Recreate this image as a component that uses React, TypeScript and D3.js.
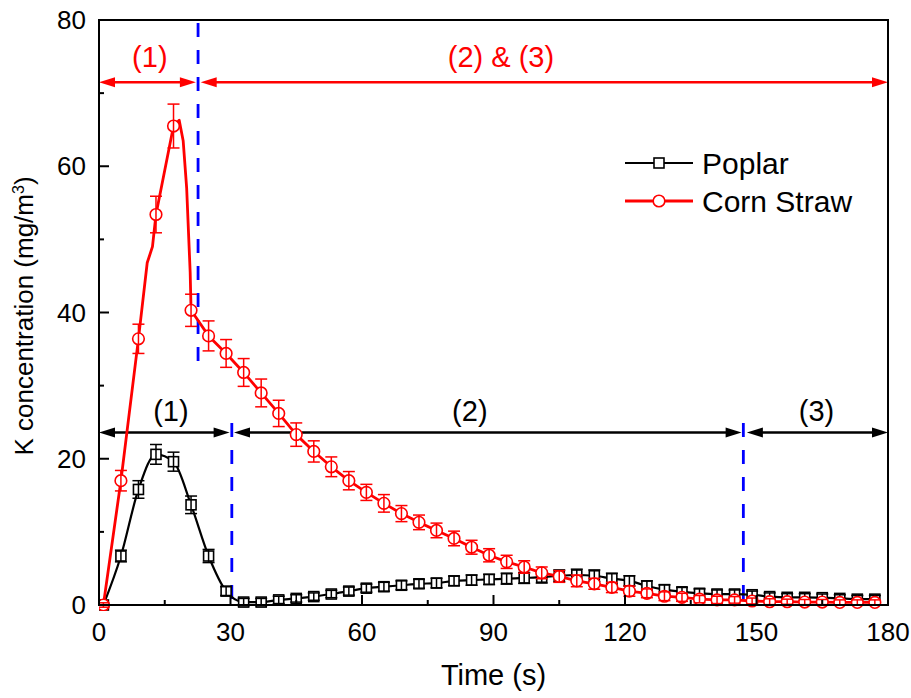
import React from 'react';
import * as d3 from 'd3';

const times = [1, 5, 9, 13, 17, 21, 25, 29, 33, 37, 41, 45, 49, 53, 57, 61, 65, 69, 73, 77, 81, 85, 89, 93, 97, 101, 105, 109, 113, 117, 121, 125, 129, 133, 137, 141, 145, 149, 153, 157, 161, 165, 169, 173, 177];

const poplar = [0, 6.7, 15.8, 20.6, 19.6, 13.7, 6.7, 1.9, 0.4, 0.4, 0.7, 0.9, 1.15, 1.5, 1.9, 2.3, 2.5, 2.7, 2.9, 3.0, 3.3, 3.4, 3.5, 3.6, 3.7, 3.8, 4.0, 4.1, 4.0, 3.6, 3.3, 2.6, 2.1, 1.8, 1.6, 1.5, 1.5, 1.4, 1.15, 1.05, 1.05, 1.0, 0.9, 0.8, 0.8];
const poplarErr = [0.2, 0.8, 1.2, 1.35, 1.3, 1.2, 0.9, 0.6, 0.5, 0.5, 0.5, 0.5, 0.5, 0.5, 0.55, 0.55, 0.6, 0.6, 0.6, 0.65, 0.65, 0.7, 0.7, 0.75, 0.75, 0.8, 0.8, 0.8, 0.8, 0.75, 0.7, 0.7, 0.65, 0.6, 0.6, 0.55, 0.55, 0.5, 0.5, 0.5, 0.5, 0.5, 0.5, 0.5, 0.5];

const corn = [0, 17.0, 36.4, 53.4, 65.5, 40.3, 36.8, 34.4, 31.8, 29.0, 26.2, 23.3, 21.0, 18.9, 17.0, 15.4, 13.9, 12.5, 11.3, 10.2, 9.1, 7.9, 6.8, 5.9, 5.2, 4.4, 3.9, 3.3, 2.9, 2.4, 1.9, 1.6, 1.2, 1.05, 0.8, 0.7, 0.7, 0.55, 0.45, 0.45, 0.4, 0.4, 0.35, 0.35, 0.35];
const cornErr = [0.3, 1.4, 2.0, 2.5, 3.0, 2.2, 2.05, 1.9, 1.9, 1.9, 1.8, 1.6, 1.45, 1.35, 1.25, 1.1, 1.2, 1.1, 1.0, 1.0, 1.0, 0.95, 0.9, 0.9, 0.85, 0.8, 0.8, 0.8, 0.75, 0.7, 0.7, 0.6, 0.6, 0.55, 0.5, 0.5, 0.45, 0.4, 0.4, 0.35, 0.35, 0.35, 0.35, 0.35, 0.35];

// additional (unmarked) points of the corn straw line
const cornExtraT = [11, 12.2, 18.3, 19.2, 20, 20.8];
const cornExtraV = [46.8, 49.0, 66.3, 63.5, 57.0, 45.5];

const xTicks = [0, 30, 60, 90, 120, 150, 180];
const xMinor = [15, 45, 75, 105, 135, 165];
const yTicks = [0, 20, 40, 60, 80];
const yMinor = [10, 30, 50, 70];

const dividers = [
  { t: 22.6, from: 79.6, to: 31.8 },
  { t: 30.3, from: 24.9, to: 0 },
  { t: 147.0, from: 24.9, to: 0 },
];
const redArrowY = 71.5;
const redArrows = [[0, 22.1], [23.2, 180]];
const redLabels = [{ t: 11.6, text: '(1)' }, { t: 91.7, text: '(2) & (3)' }];
const blackArrowY = 23.6;
const blackArrows = [[0, 29.8], [30.8, 146.6], [147.8, 180]];
const blackLabels = [{ t: 16.4, text: '(1)' }, { t: 84.6, text: '(2)' }, { t: 163.7, text: '(3)' }];

const FONT = '"Liberation Sans", Arial, sans-serif';

export default function App() {
  const W = 911, H = 698;
  const L = 99, R = 888, T = 20, B = 605;
  const x = d3.scaleLinear().domain([0, 180]).range([L, R]);
  const y = d3.scaleLinear().domain([0, 80]).range([B, T]);

  const poplarPts = times.map((t, i) => [t, poplar[i]] as [number, number]);
  const cornPts = times.map((t, i) => [t, corn[i]] as [number, number]);
  const cornLinePts = cornPts
    .concat(cornExtraT.map((t, i) => [t, cornExtraV[i]] as [number, number]))
    .sort((a, b) => a[0] - b[0]);

  const lineMono = d3.line<[number, number]>().x(d => x(d[0])).y(d => y(d[1])).curve(d3.curveMonotoneX);
  const lineLin = d3.line<[number, number]>().x(d => x(d[0])).y(d => y(d[1]));

  const arrow = (x1: number, x2: number, yy: number, color: string, key: string) => {
    const hl = 16, hw = 5;
    return (
      <g key={key}>
        <line x1={x1 + hl - 2} x2={x2 - hl + 2} y1={yy} y2={yy} stroke={color} strokeWidth={2.5} />
        <path d={`M${x1},${yy} L${x1 + hl},${yy - hw} L${x1 + hl},${yy + hw} Z`} fill={color} />
        <path d={`M${x2},${yy} L${x2 - hl},${yy - hw} L${x2 - hl},${yy + hw} Z`} fill={color} />
      </g>
    );
  };

  const errBars = (pts: [number, number][], errs: number[], color: string) =>
    pts.map((d, i) => {
      const cx = x(d[0]);
      const y1 = y(d[1] + errs[i]);
      const y2 = y(Math.max(d[1] - errs[i], -0.3));
      return (
        <g key={i} stroke={color} strokeWidth={1.5}>
          <line x1={cx} x2={cx} y1={y1} y2={y2} />
          <line x1={cx - 6} x2={cx + 6} y1={y1} y2={y1} />
          <line x1={cx - 6} x2={cx + 6} y1={y2} y2={y2} />
        </g>
      );
    });

  return (
    <svg width={W} height={H} style={{ position: 'absolute', left: 0, top: 0, background: '#fff' }} fontFamily={FONT}>
      <rect x={0} y={0} width={W} height={H} fill="#fff" />
      <defs>
        <clipPath id="plotclip">
          <rect x={L} y={T} width={R - L} height={B - T + 6} />
        </clipPath>
      </defs>

      {/* dividers */}
      {dividers.map((d, i) => (
        <line key={i} x1={x(d.t)} x2={x(d.t)} y1={y(d.from)} y2={y(d.to)} stroke="#0000FF" strokeWidth={2.8} strokeDasharray="14,13" />
      ))}

      {/* arrows */}
      {redArrows.map((a, i) => arrow(x(a[0]), x(a[1]), y(redArrowY), '#FF0000', 'r' + i))}
      {blackArrows.map((a, i) => arrow(x(a[0]), x(a[1]), y(blackArrowY), '#000', 'b' + i))}
      {redLabels.map((l, i) => (
        <text key={'rl' + i} x={x(l.t)} y={67} fill="#FF0000" fontSize={29} textAnchor="middle">{l.text}</text>
      ))}
      {blackLabels.map((l, i) => (
        <text key={'bl' + i} x={x(l.t)} y={421} fill="#000" fontSize={29} textAnchor="middle">{l.text}</text>
      ))}

      <g clipPath="url(#plotclip)">
        {/* poplar */}
        <path d={lineMono(poplarPts) || ''} fill="none" stroke="#000" strokeWidth={2.2} />
        {poplarPts.map((d, i) => (
          <rect key={i} x={x(d[0]) - 5} y={y(d[1]) - 5} width={10} height={10} fill="#fff" stroke="#000" strokeWidth={1.6} />
        ))}
        {errBars(poplarPts, poplarErr, '#000')}

        {/* corn straw */}
        <path d={lineLin(cornLinePts) || ''} fill="none" stroke="#FF0000" strokeWidth={2.8} strokeLinejoin="round" />
        {cornPts.map((d, i) => (
          <circle key={i} cx={x(d[0])} cy={y(d[1])} r={5.8} fill="#fff" stroke="#FF0000" strokeWidth={1.6} />
        ))}
        {errBars(cornPts, cornErr, '#FF0000')}
      </g>

      {/* frame */}
      <rect x={L} y={T} width={R - L} height={B - T} fill="none" stroke="#000" strokeWidth={2} />

      {/* ticks */}
      {xTicks.map(t => <line key={'xt' + t} x1={x(t)} x2={x(t)} y1={B} y2={B - 10} stroke="#000" strokeWidth={2} />)}
      {xMinor.map(t => <line key={'xm' + t} x1={x(t)} x2={x(t)} y1={B} y2={B - 5} stroke="#000" strokeWidth={2} />)}
      {yTicks.map(t => <line key={'yt' + t} x1={L} x2={L + 10} y1={y(t)} y2={y(t)} stroke="#000" strokeWidth={2} />)}
      {yMinor.map(t => <line key={'ym' + t} x1={L} x2={L + 5} y1={y(t)} y2={y(t)} stroke="#000" strokeWidth={2} />)}

      {xTicks.map(t => (
        <text key={'xl' + t} x={x(t)} y={641} fontSize={26} textAnchor="middle">{t}</text>
      ))}
      {yTicks.map(t => (
        <text key={'yl' + t} x={86} y={y(t) + 9} fontSize={26} textAnchor="end">{t}</text>
      ))}

      <text x={(L + R) / 2} y={685} fontSize={29} textAnchor="middle">Time (s)</text>
      <text transform={`translate(33, ${316}) rotate(-90)`} fontSize={26} textAnchor="middle">
        K concentration (mg/m<tspan dy={-9} fontSize={16}>3</tspan><tspan dy={9}>)</tspan>
      </text>

      {/* legend */}
      <g>
        <line x1={625} x2={693} y1={163} y2={163} stroke="#000" strokeWidth={2.2} />
        <rect x={654} y={158} width={10} height={10} fill="#fff" stroke="#000" strokeWidth={1.6} />
        <text x={702} y={173.5} fontSize={30}>Poplar</text>
        <line x1={625} x2={693} y1={201} y2={201} stroke="#FF0000" strokeWidth={2.8} />
        <circle cx={659} cy={201} r={5.8} fill="#fff" stroke="#FF0000" strokeWidth={1.6} />
        <text x={702} y={211.5} fontSize={30}>Corn Straw</text>
      </g>
    </svg>
  );
}
